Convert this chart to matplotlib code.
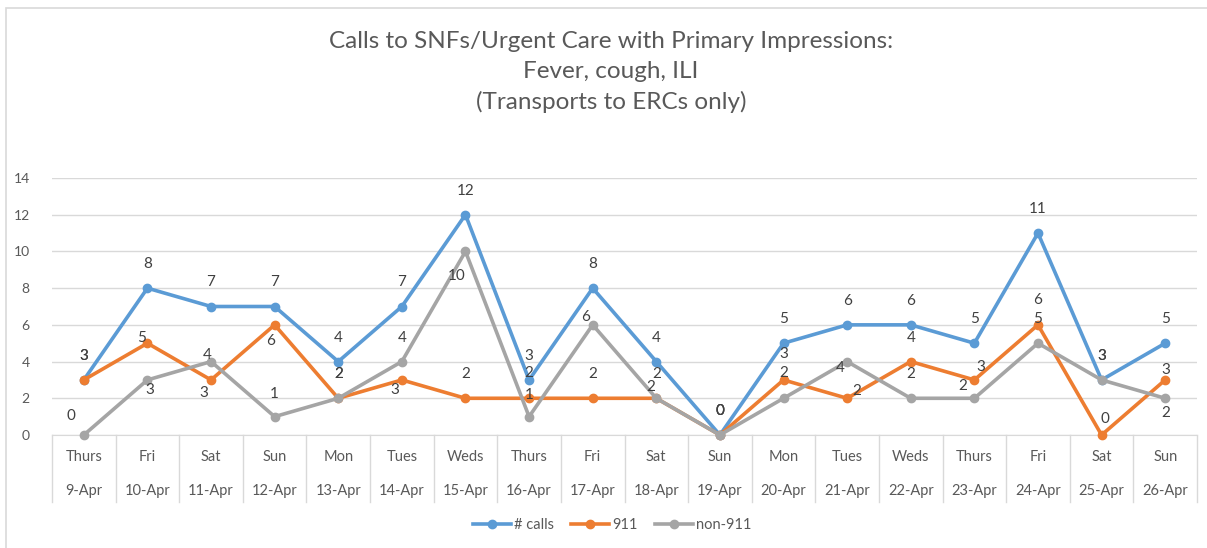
import matplotlib
matplotlib.use("Agg")
import matplotlib.pyplot as plt
import matplotlib.transforms as mtransforms
from matplotlib.patches import Rectangle

plt.rcParams['font.family'] = ['Lato', 'DejaVu Sans']

days = ["Thurs", "Fri", "Sat", "Sun", "Mon", "Tues", "Weds", "Thurs", "Fri",
        "Sat", "Sun", "Mon", "Tues", "Weds", "Thurs", "Fri", "Sat", "Sun"]
dates = ["9-Apr", "10-Apr", "11-Apr", "12-Apr", "13-Apr", "14-Apr", "15-Apr",
         "16-Apr", "17-Apr", "18-Apr", "19-Apr", "20-Apr", "21-Apr", "22-Apr",
         "23-Apr", "24-Apr", "25-Apr", "26-Apr"]
calls = [3, 8, 7, 7, 4, 7, 12, 3, 8, 4, 0, 5, 6, 6, 5, 11, 3, 5]
calls_911 = [3, 5, 3, 6, 2, 3, 2, 2, 2, 2, 0, 3, 2, 4, 3, 6, 0, 3]
calls_non911 = [0, 3, 4, 1, 2, 4, 10, 1, 6, 2, 0, 2, 4, 2, 2, 5, 3, 2]

# label offsets in pixels (dx, dy up)
off_calls = [(0, 24)] * 18
off_911 = [(0, 24), (-6, 5), (-7, -13), (-4, -16), (0, 24), (-7, -10), (0, 24), (0, 25),
           (0, 24), (-6, 11), (0, 24), (0, 26), (10, 7), (0, 24), (6, 13), (0, 25),
           (3, 16), (1, 10)]
off_non911 = [(-13, 19), (2, -10), (-4, 7), (0, 23), (0, 24), (0, 24), (-9, -25), (0, 22),
              (-7, 8), (0, 24), (0, 24), (0, 25), (-7, -6), (0, 24), (-12, 12), (0, 24),
              (0, 24), (1, -15)]

grey_txt = '#595959'
fig = plt.figure(figsize=(12.07, 5.48), dpi=100)
fig.patches.append(Rectangle((6 / 1207, -0.1), 1.2, 1 - 8 / 548 + 0.1, transform=fig.transFigure,
                             fill=False, edgecolor='#D9D9D9', linewidth=1.2))

ax = fig.add_axes([52 / 1207, 1 - 435 / 548, 1145 / 1207, 257 / 548])
x = list(range(len(days)))

series = [(calls, '#5B9BD5', '# calls', off_calls),
          (calls_911, '#ED7D31', '911', off_911),
          (calls_non911, '#A5A5A5', 'non-911', off_non911)]
for vals, col, lab, offs in series:
    ax.plot(x, vals, '-o', color=col, lw=2.6, ms=6, label=lab, zorder=3, clip_on=False)
    for xi, v, (dx, dy) in zip(x, vals, offs):
        ax.annotate(str(v), (xi, v), xytext=(dx, dy), textcoords='offset pixels',
                    ha='center', va='center', fontsize=11, color='#404040', zorder=4)

ax.set_xlim(-0.5, len(days) - 0.5)
ax.set_ylim(0, 14)
ax.set_yticks(range(0, 15, 2))
ax.grid(axis='y', color='#D9D9D9', lw=1)
ax.set_axisbelow(True)
for s in ['top', 'right', 'left']:
    ax.spines[s].set_visible(False)
ax.spines['bottom'].set_color('#D9D9D9')
ax.tick_params(axis='y', length=0, pad=16, labelsize=10, labelcolor=grey_txt)
ax.set_xticks([])

trans = mtransforms.blended_transform_factory(ax.transData, ax.transAxes)
for i in range(len(days) + 1):
    ax.plot([i - 0.5, i - 0.5], [0, -0.26], transform=trans, color='#D9D9D9', lw=1, clip_on=False)
for i, (d, dt) in enumerate(zip(days, dates)):
    ax.text(i, -0.086, d, transform=trans, ha='center', va='center', fontsize=10.5, color=grey_txt)
    ax.text(i, -0.218, dt, transform=trans, ha='center', va='center', fontsize=10.5, color=grey_txt)

fig.text(611 / 1207, 1 - 72 / 548,
         "Calls to SNFs/Urgent Care with Primary Impressions:\nFever, cough, ILI\n(Transports to ERCs only)",
         ha='center', va='center', multialignment='center', fontsize=17.5, color=grey_txt, linespacing=1.5)

fig.legend(loc='center', bbox_to_anchor=(612 / 1207, 1 - 525 / 548), ncol=3, frameon=False,
           fontsize=10.5, handlelength=2.6, columnspacing=1.2, handletextpad=0.2, labelcolor=grey_txt)

fig.savefig('out.png', dpi=100)
